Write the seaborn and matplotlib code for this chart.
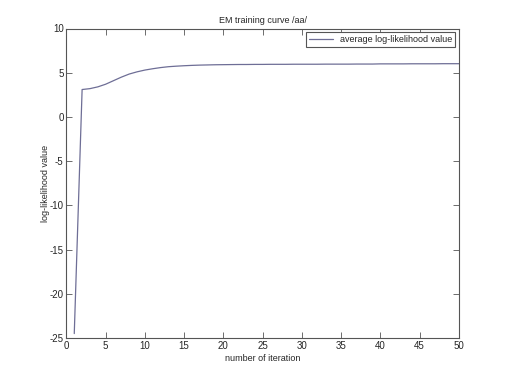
import matplotlib
matplotlib.use('Agg')
import matplotlib.pyplot as plt
import seaborn as sns
import pandas as pd

# данные
iterations = list(range(1, 51))
loglik = [-24.5, 3.1, 3.2, 3.4, 3.7, 4.1, 4.5, 4.85, 5.1, 5.3,
          5.45, 5.58, 5.68, 5.74, 5.79, 5.83, 5.86, 5.88, 5.9, 5.91,
          5.92, 5.93, 5.93, 5.94, 5.94, 5.95, 5.95, 5.95, 5.96, 5.96,
          5.96, 5.96, 5.97, 5.97, 5.97, 5.97, 5.98, 5.98, 5.98, 6.0,
          6.0, 6.0, 6.0, 6.01, 6.01, 6.01, 6.01, 6.02, 6.02, 6.02]

df = pd.DataFrame({'iteration': iterations, 'loglik': loglik})

sns.set_style('ticks')
plt.rcParams['font.family'] = ['Liberation Sans', 'DejaVu Sans']
plt.rcParams['font.size'] = 6.5
plt.rcParams['axes.unicode_minus'] = False

fig = plt.figure(figsize=(5.07, 3.8), dpi=100)
ax = fig.add_axes([0.131, 0.1105, 0.774, 0.8145])
sns.lineplot(data=df, x='iteration', y='loglik', ax=ax, color='#6e6e96',
             linewidth=0.9, label='average log-likelihood value')
ax.set_xlim(0, 50)
ax.set_ylim(-25, 10)
ax.set_xticks(range(0, 51, 5))
ax.set_yticks(range(-25, 11, 5))
ax.tick_params(direction='in', top=True, right=True, length=4, width=0.6,
               labelsize=7, color='#555555', pad=2)
for s in ax.spines.values():
    s.set_linewidth(0.8)
    s.set_color('#555555')
ax.set_title('EM training curve /aa/', fontsize=6.5, pad=4)
ax.set_xlabel('number of iteration', fontsize=6.5, labelpad=2)
ax.set_ylabel('log-likelihood value', fontsize=6.5, labelpad=0)
leg = ax.legend(loc='upper right', fontsize=6.5, fancybox=False,
                borderaxespad=0.4, handlelength=2.6, framealpha=1,
                borderpad=0.35)
leg.get_frame().set_edgecolor('#555555')
leg.get_frame().set_linewidth(0.8)
fig.savefig('out.png', dpi=100, facecolor='white')
